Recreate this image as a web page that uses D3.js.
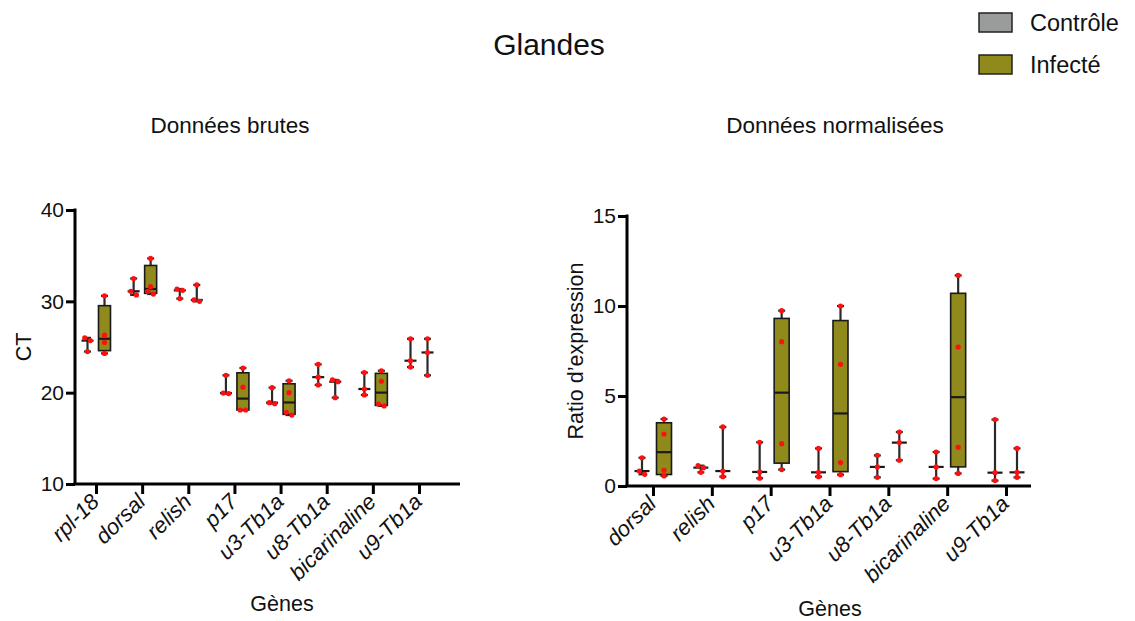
<!DOCTYPE html>
<html>
<head>
<meta charset="utf-8">
<script src="https://cdn.jsdelivr.net/npm/d3@7"></script>
<style>
  body { margin: 0; background: #fff; }
  text { font-family: "Liberation Sans", Arial, Helvetica, sans-serif; fill: #111; }
</style>
</head>
<body>
<div id="chart"></div>
<script>
// raw CT values (Données brutes)
var genesBrut = ["rpl-18", "dorsal", "relish", "p17", "u3-Tb1a", "u8-Tb1a", "bicarinaline", "u9-Tb1a"];
var brutControle = [
  [26.0, 25.7, 24.5],
  [32.5, 31.1, 30.7],
  [31.35, 31.2, 30.3],
  [21.9, 19.95, 19.9],
  [20.55, 18.9, 18.8],
  [23.1, 21.7, 20.85],
  [22.2, 20.4, 19.75],
  [25.9, 23.5, 22.8]
];
var brutInfecte = [
  [30.6, 26.3, 25.5, 24.3],
  [34.7, 31.6, 31.1, 30.8],
  [31.8, 30.15, 30.0],
  [22.7, 20.6, 18.1, 18.1],
  [21.3, 20.0, 17.85, 17.55],
  [21.4, 21.2, 19.45],
  [22.4, 21.25, 18.76, 18.55],
  [25.9, 24.4, 21.9]
];
var ticksBrut = [10, 20, 30, 40];

// normalised ratios (Données normalisées)
var genesNorm = ["dorsal", "relish", "p17", "u3-Tb1a", "u8-Tb1a", "bicarinaline", "u9-Tb1a"];
var normControle = [
  [1.57, 0.83, 0.65],
  [1.13, 1.02, 0.76],
  [2.43, 0.78, 0.43],
  [2.09, 0.76, 0.52],
  [1.7, 1.06, 0.48],
  [1.89, 1.06, 0.41],
  [3.69, 0.74, 0.3]
];
var normInfecte = [
  [3.72, 2.89, 0.87, 0.56],
  [3.28, 0.83, 0.52],
  [9.74, 8.02, 2.35, 0.91],
  [10.0, 6.76, 1.3, 0.63],
  [3.0, 2.41, 1.43],
  [11.7, 7.72, 2.15, 0.7],
  [2.09, 0.76, 0.48]
];
var ticksNorm = [0, 5, 10, 15];

var groups = ["Contrôle", "Infecté"];
var fills = ["#9a9c9c", "#8f8a1b"];

var svg = d3.select("#chart").append("svg")
  .attr("width", 1135)
  .attr("height", 621);

// quartile as GraphPad does it: position p*(n+1)
function quart(sorted, p) {
  var n = sorted.length, pos = p * (n + 1), lo = Math.floor(pos), f = pos - lo;
  if (lo < 1) return sorted[0];
  if (lo >= n) return sorted[n - 1];
  return sorted[lo - 1] + f * (sorted[lo] - sorted[lo - 1]);
}

panel({
  genes: genesBrut, ctrl: brutControle, inf: brutInfecte, ticks: ticksBrut,
  yDomain: [10, 40], yRange: [484, 210], xRange: [96, 419],
  axisX: [75, 460], off: 8.5, boxW: 12,
  title: "Données brutes", titleX: 230, ylab: "CT", ylabX: 31, xlabX: 282, xlabY: 611
});

panel({
  genes: genesNorm, ctrl: normControle, inf: normInfecte, ticks: ticksNorm,
  yDomain: [0, 15], yRange: [486, 216], xRange: [653, 1006],
  axisX: [627, 1031], off: 11, boxW: 15,
  title: "Données normalisées", titleX: 835, ylab: "Ratio d’expression", ylabX: 583, xlabX: 830, xlabY: 616
});

svg.append("text")
  .attr("x", 549).attr("y", 55)
  .style("font-size", "30px")
  .style("text-anchor", "middle")
  .text("Glandes");

var legend = svg.append("g");
groups.forEach(function(g, i) {
  legend.append("rect")
    .attr("x", 979).attr("y", 13 + i * 42)
    .attr("width", 33).attr("height", 19)
    .style("fill", fills[i])
    .style("stroke", "#222")
    .style("stroke-width", 1.5);
  legend.append("text")
    .attr("x", 1030).attr("y", 31 + i * 42)
    .style("font-size", "23.5px")
    .text(g);
});

function panel(c) {
  var x = d3.scalePoint().domain(c.genes).range(c.xRange);
  var y = d3.scaleLinear().domain(c.yDomain).range(c.yRange);
  var base = c.yRange[0];

  var g = svg.append("g");

  // y axis
  var ya = g.append("g")
    .attr("transform", "translate(" + c.axisX[0] + ",0)")
    .call(d3.axisLeft(y).tickValues(c.ticks).tickSize(9).tickPadding(2).tickSizeOuter(0));
  ya.select(".domain").remove();
  ya.selectAll(".tick line").style("stroke", "#000").style("stroke-width", 3);
  ya.selectAll(".tick text").style("font-size", "21px").style("font-family", "Liberation Sans, Arial, sans-serif").style("fill", "#111");
  g.append("line")
    .attr("x1", c.axisX[0]).attr("x2", c.axisX[0])
    .attr("y1", y(c.yDomain[1]) - 1.5).attr("y2", base)
    .style("stroke", "#000").style("stroke-width", 3);

  // x axis
  var xa = g.append("g")
    .attr("transform", "translate(0," + base + ")")
    .call(d3.axisBottom(x).tickSize(10).tickSizeOuter(0));
  xa.select(".domain").remove();
  xa.selectAll(".tick line").style("stroke", "#000").style("stroke-width", 3);
  xa.selectAll(".tick text")
    .attr("x", 0).attr("y", 0).attr("dy", null)
    .attr("transform", "translate(4,19) rotate(-45)")
    .style("text-anchor", "end")
    .style("font-size", "22px")
    .style("font-style", "italic")
    .style("font-family", "Liberation Sans, Arial, sans-serif")
    .style("fill", "#111");
  g.append("line")
    .attr("x1", c.axisX[0] - 1.5).attr("x2", c.axisX[1])
    .attr("y1", base).attr("y2", base)
    .style("stroke", "#000").style("stroke-width", 3);

  // boxes
  [c.ctrl, c.inf].forEach(function(series, si) {
    series.forEach(function(vals, gi) {
      var s = vals.slice().sort(d3.ascending);
      var cx = x(c.genes[gi]) + (si === 0 ? -c.off : c.off);
      var med = d3.median(s), lo = s[0], hi = s[s.length - 1];
      var hasBox = s.length >= 4;
      var q1 = hasBox ? quart(s, 0.25) : med, q3 = hasBox ? quart(s, 0.75) : med;
      var bw = c.boxW, cap = 7;

      g.append("line")
        .attr("x1", cx).attr("x2", cx)
        .attr("y1", y(hi)).attr("y2", y(lo))
        .style("stroke", "#2a2a2a").style("stroke-width", 2.2);
      [lo, hi].forEach(function(v) {
        g.append("line")
          .attr("x1", cx - cap / 2).attr("x2", cx + cap / 2)
          .attr("y1", y(v)).attr("y2", y(v))
          .style("stroke", "#2a2a2a").style("stroke-width", 2.2);
      });
      if (hasBox) {
        g.append("rect")
          .attr("x", cx - bw / 2).attr("y", y(q3))
          .attr("width", bw).attr("height", y(q1) - y(q3))
          .style("fill", fills[si])
          .style("stroke", "#1a1a1a").style("stroke-width", 1.6);
      }
      g.append("line")
        .attr("x1", cx - bw / 2).attr("x2", cx + bw / 2)
        .attr("y1", y(med)).attr("y2", y(med))
        .style("stroke", "#1a1a1a").style("stroke-width", 2.2);

      // points, spread sideways when they overlap
      var py = s.map(function(v) { return y(v); }).sort(d3.ascending);
      var clusters = [];
      py.forEach(function(p) {
        var last = clusters[clusters.length - 1];
        if (last && p - last[last.length - 1] < 4) last.push(p);
        else clusters.push([p]);
      });
      clusters.forEach(function(cl) {
        cl.forEach(function(p, j) {
          g.append("circle")
            .attr("cx", cx + (j - (cl.length - 1) / 2) * 5.5)
            .attr("cy", p)
            .attr("r", 2.6)
            .style("fill", "#ff1010");
        });
      });
    });
  });

  // labels
  svg.append("text")
    .attr("x", c.titleX).attr("y", 133)
    .style("font-size", "22.5px")
    .style("text-anchor", "middle")
    .text(c.title);

  svg.append("text")
    .attr("transform", "translate(" + c.ylabX + "," + ((c.yRange[0] + c.yRange[1]) / 2) + ") rotate(-90)")
    .style("font-size", "21.5px")
    .style("text-anchor", "middle")
    .text(c.ylab);

  svg.append("text")
    .attr("x", c.xlabX).attr("y", c.xlabY)
    .style("font-size", "21.5px")
    .style("text-anchor", "middle")
    .text("Gènes");
}
</script>
</body>
</html>
